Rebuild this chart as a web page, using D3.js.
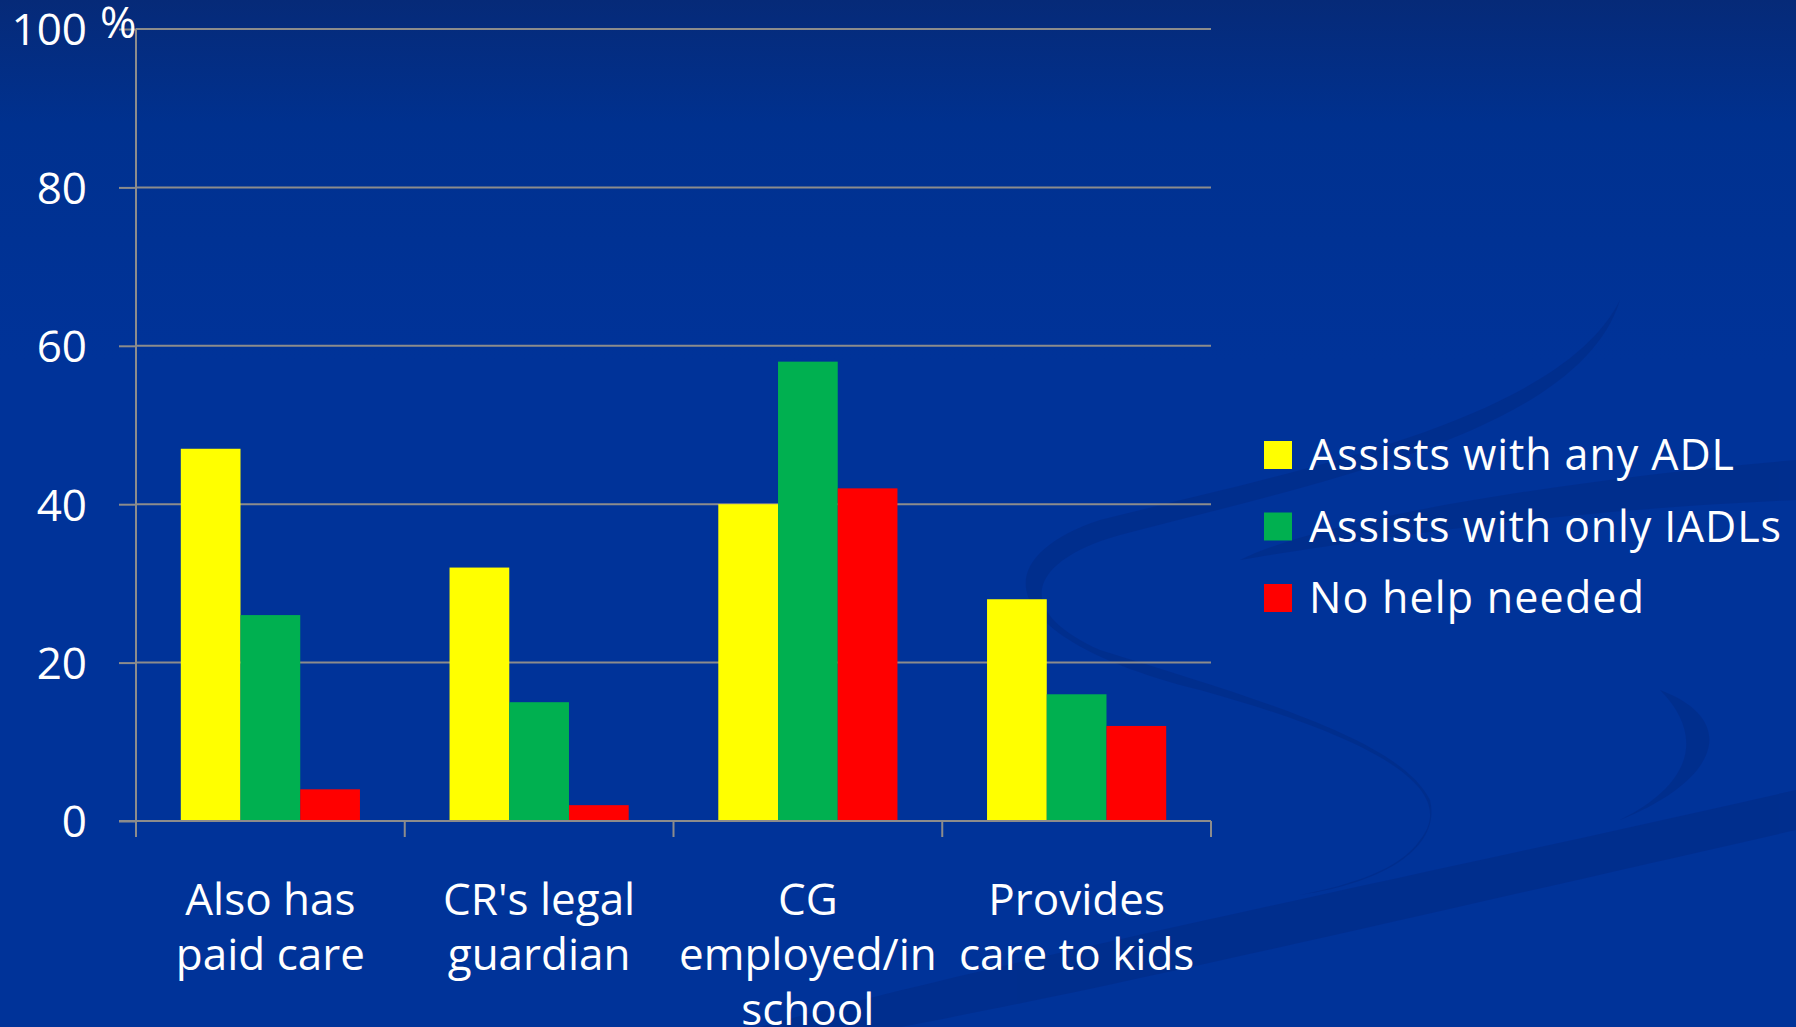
<!DOCTYPE html>
<html>
<head>
<meta charset="utf-8">
<script src="https://cdn.jsdelivr.net/npm/d3@7"></script>
<style>
  html, body { margin: 0; padding: 0; background: #003399; overflow: hidden; }
  svg { display: block; }
  text { font-family: "Open Sans", "DejaVu Sans", sans-serif; fill: #ffffff; }
</style>
</head>
<body>
<svg id="chart" width="1796" height="1027"></svg>
<script>
// ---- data ----
const categories = ["Also has paid care", "CR's legal guardian", "CG employed/in school", "Provides care to kids"]
const categoryLines = [["Also has", "paid care"], ["CR's legal", "guardian"], ["CG", "employed/in", "school"], ["Provides", "care to kids"]]
const seriesNames = ["Assists with any ADL", "Assists with only IADLs", "No help needed"]
const anyADL   = [47, 32, 40, 28]
const onlyIADL = [26, 15, 58, 16]
const noHelp   = [4, 2, 42, 12]
const yTicks = [0, 20, 40, 60, 80, 100]
const seriesColors = ["#ffff00", "#00b050", "#ff0000"]

const seriesValues = [anyADL, onlyIADL, noHelp]

const svg = d3.select("#chart")
const W = 1796, H = 1027

// ---- background ----
const defs = svg.append("defs")
const bg = defs.append("linearGradient").attr("id", "bg").attr("x1", 0).attr("y1", 0).attr("x2", 0).attr("y2", 1)
bg.append("stop").attr("offset", "0").attr("stop-color", "#062a78")
bg.append("stop").attr("offset", "0.12").attr("stop-color", "#00318f")
bg.append("stop").attr("offset", "0.35").attr("stop-color", "#003399")
bg.append("stop").attr("offset", "1").attr("stop-color", "#003399")
svg.append("rect").attr("width", W).attr("height", H).attr("fill", "url(#bg)")

// swoosh ribbons (decoration)
const deco = svg.append("g").attr("fill", "#002a85").attr("opacity", 0.55)
deco.append("path").attr("d",
  "M1620,300 C1560,420 1300,470 1100,520 C980,560 1000,640 1200,690 C1380,740 1460,790 1420,840 C1400,870 1350,885 1300,895 " +
  "C1400,880 1440,840 1430,800 C1400,740 1260,700 1100,650 C1010,610 1030,560 1120,535 C1330,480 1580,430 1620,300 Z")
deco.append("path").attr("d",
  "M760,1027 C1000,960 1400,880 1796,790 L1796,830 C1400,920 1100,990 900,1027 Z")
deco.append("path").attr("d",
  "M1240,560 C1320,520 1560,480 1796,460 L1796,500 C1560,510 1360,540 1240,560 Z")
deco.append("path").attr("d",
  "M1660,690 C1740,720 1720,780 1620,820 C1700,780 1700,730 1660,690 Z")

// ---- scales ----
const plotLeft = 136, plotRight = 1211, plotTop = 29, plotBottom = 821
const y = d3.scaleLinear().domain([0, 100]).range([plotBottom, plotTop])
const x0 = d3.scaleBand().domain(categories).range([plotLeft, plotRight]).padding(0)
const x1 = d3.scaleBand().domain(seriesNames).range([0, x0.bandwidth()]).paddingInner(0).paddingOuter(0.75)

const gridColor = "#8c8c8c"

// gridlines
svg.append("g").selectAll("line").data(yTicks.filter(d => d > 0)).join("line")
  .attr("x1", plotLeft).attr("x2", plotRight)
  .attr("y1", d => y(d)).attr("y2", d => y(d))
  .attr("stroke", gridColor).attr("stroke-width", 2)

// y axis
const yAxis = svg.append("g").attr("transform", `translate(${plotLeft},0)`)
  .call(d3.axisLeft(y).tickValues(yTicks).tickSize(17).tickFormat(d => d))
yAxis.select(".domain").attr("stroke", gridColor).attr("stroke-width", 2)
  .attr("d", `M0,${plotTop}V${plotBottom + 16}`)
yAxis.selectAll(".tick line").attr("stroke", gridColor).attr("stroke-width", 2)
yAxis.selectAll(".tick text")
  .attr("x", -49).attr("dy", "0.36em")
  .style("font-size", "44px").attr("fill", "#ffffff")
  .style("font-family", "'Open Sans', sans-serif")
svg.append("text").attr("x", 100).attr("y", 38).attr("font-size", 44).text("%")

// bars
const groups = svg.append("g").selectAll("g").data(categories).join("g")
  .attr("transform", d => `translate(${x0(d)},0)`)
groups.selectAll("rect")
  .data((c, i) => seriesNames.map((s, k) => ({ s, v: seriesValues[k][i], k })))
  .join("rect")
  .attr("x", d => x1(d.s))
  .attr("width", x1.bandwidth())
  .attr("y", d => y(d.v))
  .attr("height", d => y(0) - y(d.v))
  .attr("fill", d => seriesColors[d.k])

// x axis
const xAxis = svg.append("g").attr("transform", `translate(0,${plotBottom})`)
xAxis.append("line").attr("x1", plotLeft - 17).attr("x2", plotRight)
  .attr("stroke", gridColor).attr("stroke-width", 2)
xAxis.selectAll(".xt").data(categories.concat(["end"])).join("line")
  .attr("x1", (d, i) => i < categories.length ? x0(d) : plotRight)
  .attr("x2", (d, i) => i < categories.length ? x0(d) : plotRight)
  .attr("y1", 0).attr("y2", 16)
  .attr("stroke", gridColor).attr("stroke-width", 2)

// category labels
svg.append("g").selectAll("text").data(categories).join("text")
  .attr("text-anchor", "middle")
  .attr("font-size", 44)
  .each(function (d, i) {
    const t = d3.select(this)
    categoryLines[i].forEach((line, j) => {
      t.append("tspan")
        .attr("x", x0(d) + x0.bandwidth() / 2)
        .attr("y", 899 + j * 55)
        .attr("dy", "0.36em")
        .text(line)
    })
  })

// legend
const legendWidths = [425, 472, 335]
const legend = svg.append("g").attr("transform", "translate(1264,455)")
const li = legend.selectAll("g").data(seriesNames).join("g")
  .attr("transform", (d, i) => `translate(0,${i * 71.5})`)
li.append("rect").attr("x", 0).attr("y", -14).attr("width", 28).attr("height", 28)
  .attr("fill", (d, i) => seriesColors[i])
li.append("text").attr("x", 45).attr("dy", "0.36em").attr("font-size", 43)
  .attr("textLength", (d, i) => legendWidths[i]).attr("lengthAdjust", "spacing")
  .text(d => d)
</script>
</body>
</html>
